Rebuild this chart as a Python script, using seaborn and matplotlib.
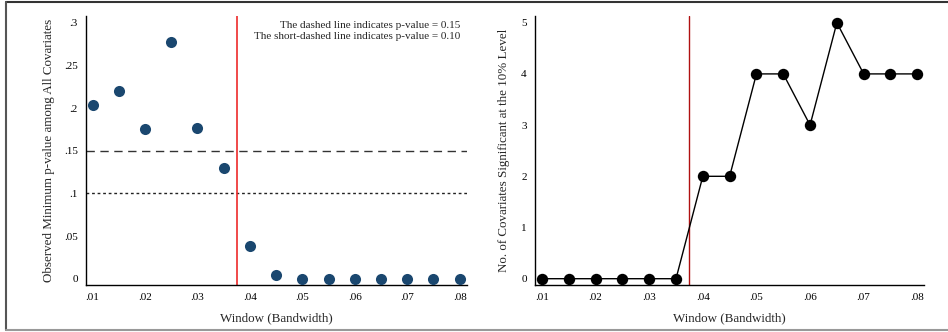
import numpy as np
import pandas as pd
import matplotlib
matplotlib.use("Agg")
import matplotlib.pyplot as plt
import seaborn as sns
from matplotlib.lines import Line2D
from matplotlib.ticker import FuncFormatter

# data
window = [0.010, 0.015, 0.020, 0.025, 0.030, 0.035, 0.040, 0.045,
          0.050, 0.055, 0.060, 0.065, 0.070, 0.075, 0.080]
min_pval = [0.204, 0.220, 0.176, 0.278, 0.177, 0.130, 0.038, 0.004,
            0.0, 0.0, 0.0, 0.0, 0.0, 0.0, 0.0]
n_signif = [0, 0, 0, 0, 0, 0, 2, 2, 4, 4, 3, 5, 4, 4, 4]
cutoff = 0.0375
xticks = [0.01, 0.02, 0.03, 0.04, 0.05, 0.06, 0.07, 0.08]
yticks_left = [0, 0.05, 0.1, 0.15, 0.2, 0.25, 0.3]
yticks_right = [0, 1, 2, 3, 4, 5]

df = pd.DataFrame({"window": window, "pval": min_pval, "n": n_signif})

sns.set_style("white")
plt.rcParams['font.family'] = ['Liberation Serif', 'DejaVu Serif']
plt.rcParams['font.size'] = 9

def stata_fmt(v, pos):
    s = ('%.3f' % v).rstrip('0').rstrip('.')
    if s.startswith('0.'):
        s = s[1:]
    return s

fig = plt.figure(figsize=(9.48, 3.32), dpi=100)
ax1 = fig.add_axes([86/948, 47/332, 381/948, 269/332])
ax2 = fig.add_axes([535/948, 47/332, 389/948, 269/332])

# left panel
sns.scatterplot(data=df, x="window", y="pval", ax=ax1, color="#1a476f",
                s=64, linewidth=0, zorder=3)
ax1.axhline(0.15, color="#333333", lw=1, ls=(0, (6, 4)))
ax1.axhline(0.10, color="#222222", lw=1, ls=(0, (2, 2)))
ax1.axvline(cutoff, color="#ee2a2a", lw=1.2)
ax1.set_xlim(0.00876, 0.08139)
ax1.set_ylim(-0.0074, 0.3079)
ax1.set_yticks(yticks_left)
ax1.set_ylabel("Observed Minimum p-value among All Covariates", fontsize=9.4,
               labelpad=6)
ax1.text(0.0801, 0.302, "The dashed line indicates p-value = 0.15\n"
         "The short-dashed line indicates p-value = 0.10",
         ha="right", va="top", fontsize=8, linespacing=1.25)

# right panel
sns.lineplot(data=df, x="window", y="n", ax=ax2, color="black", lw=1,
             marker="o", markersize=8.2, markeredgewidth=0, zorder=3)
ax2.axvline(cutoff, color="#b01010", lw=1)
ax2.set_xlim(0.0087, 0.08125)
ax2.set_ylim(-0.123, 5.131)
ax2.set_yticks(yticks_right)
ax2.set_ylabel("No. of Covariates Significant at the 10% Level", fontsize=9.4,
               labelpad=8)

for ax in (ax1, ax2):
    ax.set_xticks(xticks)
    ax.xaxis.set_major_formatter(FuncFormatter(stata_fmt))
    ax.yaxis.set_major_formatter(FuncFormatter(stata_fmt))
    ax.set_xlabel("Window (Bandwidth)", fontsize=9.4, labelpad=7)
    sns.despine(ax=ax)
    for sp in ("left", "bottom"):
        ax.spines[sp].set_color("black")
        ax.spines[sp].set_linewidth(1)
    ax.tick_params(axis="both", direction="out", length=4, width=0.8,
                   colors="black", labelsize=8, pad=2)
    ax.set_facecolor("white")

# outer frame
fig.add_artist(Line2D([6/948, 1.0], [330/332, 330/332], color="#333333", lw=1.5,
                      transform=fig.transFigure))
fig.add_artist(Line2D([6/948, 6/948], [2/332, 330/332], color="#555555", lw=1.5,
                      transform=fig.transFigure))
fig.add_artist(Line2D([6/948, 1.0], [2/332, 2/332], color="#999999", lw=1.5,
                      transform=fig.transFigure))

fig.savefig("out.png", dpi=100)
